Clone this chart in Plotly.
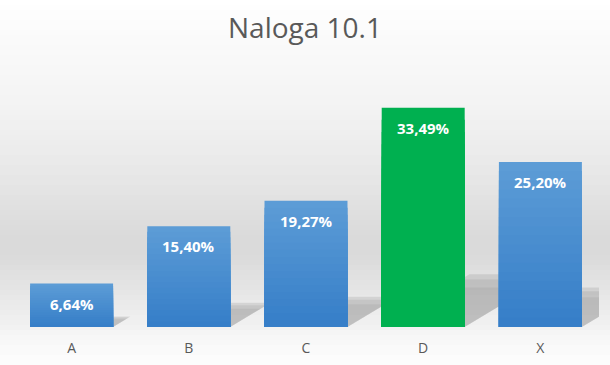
import plotly.graph_objects as go

# ---- data ----
categories = ["A", "B", "C", "D", "X"]
values = [6.64, 15.40, 19.27, 33.49, 25.20]
labels = ["6,64%", "15,40%", "19,27%", "33,49%", "25,20%"]
highlight = "D"

# ---- style / layout constants ----
W, H = 610, 365
ML, MR, MT, MB = 13, 11, 65, 38
Y_MAX = 40
BAR_W = 0.708
TOP_RGB = (92, 156, 214)
BOT_RGB = (54, 126, 200)
GREEN = "#00b050"
N_LAYERS = 18

plot_w = W - ML - MR
plot_h = H - MT - MB
px_per_x = plot_w / len(categories)
px_per_y = plot_h / Y_MAX

xs = list(range(len(categories)))

fig = go.Figure()

# background gradient bands (paper)
stops = [(0, 255), (40, 250), (100, 244), (150, 236), (200, 226),
         (235, 218), (255, 218), (280, 226), (310, 236), (327, 242),
         (340, 248), (365, 253)]
def gray_at(y):
    for (y0, g0), (y1, g1) in zip(stops[:-1], stops[1:]):
        if y0 <= y <= y1:
            return g0 + (g1 - g0) * (y - y0) / (y1 - y0)
    return stops[-1][1]

shapes = []
step = 5
for y in range(0, H, step):
    g = round(gray_at(y + step / 2))
    shapes.append(dict(
        type="rect", xref="paper", yref="paper",
        x0=-ML / plot_w, x1=1 + MR / plot_w,
        y0=1 + MT / plot_h - (y + step) / plot_h,
        y1=1 + MT / plot_h - y / plot_h,
        fillcolor=f"rgb({g},{g},{g})", line=dict(width=0), layer="below",
    ))

# perspective shadows (computed from values), below the bars
for i, v in enumerate(values):
    top_v = 0.24 * v
    for frac, op in [(1.0, 0.09), (0.9, 0.07), (0.75, 0.05)]:
        tv = top_v * frac
        s = (tv * px_per_y / 0.6) / px_per_x
        xl, xr = i - BAR_W / 2, i + BAR_W / 2
        path = (f"M{xl},0 L{xr},0 L{xr + s},{tv} L{xl + s},{tv} Z")
        shapes.append(dict(
            type="path", xref="x", yref="y", path=path,
            fillcolor=f"rgba(0,0,0,{op})", line=dict(width=0),
            layer="below",
        ))

# gradient bars built from stacked overlays
def mix(a, b, t):
    return tuple(round(a[j] + (b[j] - a[j]) * t) for j in range(3))

for k in range(N_LAYERS):
    t = k / (N_LAYERS - 1)
    c = mix(TOP_RGB, BOT_RGB, t)
    col = f"rgb{c}"
    colors = [GREEN if cat == highlight else col for cat in categories]
    heights = [v * (N_LAYERS - k) / N_LAYERS for v in values]
    fig.add_trace(go.Bar(
        x=xs, y=heights, width=BAR_W,
        marker=dict(color=colors, line=dict(width=0)),
        showlegend=False, hoverinfo="skip",
    ))

# value labels
for i, (v, lab) in enumerate(zip(values, labels)):
    fig.add_annotation(
        x=i, y=v, text=f"<b>{lab}</b>", showarrow=False,
        yanchor="middle", yshift=-20,
        font=dict(family="Open Sans", size=15, color="white"),
    )

fig.update_layout(
    width=W, height=H,
    margin=dict(l=ML, r=MR, t=MT, b=MB, autoexpand=False),
    paper_bgcolor="white", plot_bgcolor="rgba(0,0,0,0)",
    barmode="overlay",
    shapes=shapes,
    title=dict(text="Naloga 10.1", x=0.5, xanchor="center",
               y=(H - 28) / H, yanchor="middle",
               font=dict(family="Open Sans", size=28, color="#595959")),
    xaxis=dict(range=[-0.5, len(categories) - 0.5], tickvals=xs,
               ticktext=categories, showgrid=False, zeroline=False,
               showline=False, ticks="outside", ticklen=8,
               tickcolor="rgba(0,0,0,0)", automargin=False,
               tickfont=dict(family="Open Sans", size=14, color="#595959"),
               fixedrange=True),
    yaxis=dict(range=[0, Y_MAX], visible=False, fixedrange=True,
               automargin=False),
    showlegend=False,
)

fig.write_html("out.html",
               config={"displayModeBar": False, "staticPlot": True},
               post_script="document.body.style.margin='0';"
                           "document.body.style.overflow='hidden';")
